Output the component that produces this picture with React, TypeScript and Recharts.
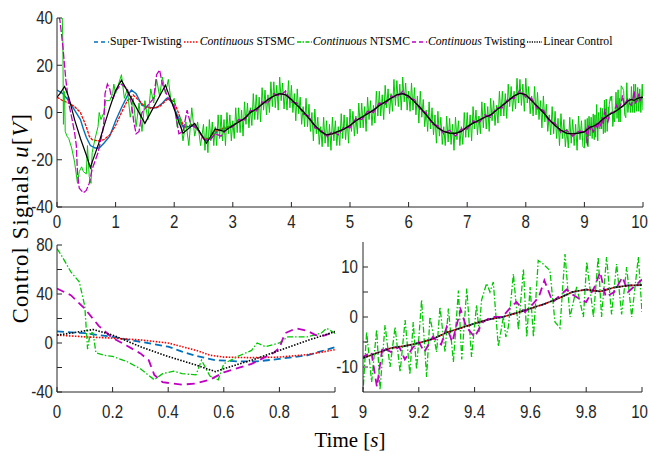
import React from 'react';
import { LineChart, Line, XAxis, YAxis, Legend } from 'recharts';

type Pt = [number, number];

// ---------- data (time [s], value [V]) ----------
const superTwistingStart: Pt[] = [
  [0, 9.5], [0.1, 8], [0.2, 5], [0.3, 1], [0.4, -3], [0.45, -7], [0.5, -10.5], [0.57, -14], [0.65, -15], [0.72, -15],
  [0.8, -13], [0.9, -10], [1.0, -3.5], [1.1, 2], [1.2, 7], [1.27, 9.5], [1.35, 8], [1.45, 3], [1.6, 2], [1.7, 2],
  [1.8, 4], [1.87, 6], [1.95, 5], [2.05, -1], [2.15, -6], [2.25, -6], [2.35, -5.5], [2.45, -9], [2.55, -12],
  [2.65, -10.5], [2.75, -7.5], [2.9, -6.5],
];
const stsmcStart: Pt[] = [
  [0, 6.5], [0.1, 5], [0.2, 4], [0.3, 2.5], [0.4, 0], [0.45, -3], [0.5, -6], [0.55, -10], [0.6, -11.5], [0.7, -12],
  [0.8, -11.5], [0.9, -9.5], [1.0, -5.5], [1.1, 0], [1.2, 5], [1.3, 7.4], [1.4, 5], [1.5, 2.5], [1.6, 1.8],
  [1.75, 2.5], [1.9, 6], [2.0, 4.6], [2.1, -2], [2.17, -6.5], [2.3, -5], [2.4, -7], [2.5, -11], [2.6, -11],
  [2.7, -8], [2.85, -6.5],
];
const linearStart: Pt[] = [
  [0, 6.5], [0.05, 8], [0.13, 11], [0.2, 6.5], [0.3, -3], [0.4, -11], [0.5, -18], [0.57, -23.4], [0.6, -21],
  [0.7, -14], [0.8, -6], [0.9, 2], [1.0, 9.3], [1.1, 13.7], [1.5, -4.6], [1.85, 11.6], [2.15, -8.8], [2.35, -4.6],
  [2.55, -13], [2.7, -7], [2.85, -8],
];
const trackingTail: Pt[] = [
  [3.0, -5.5], [3.1, -4], [3.2, -2.5], [3.3, 0], [3.4, 1.5], [3.5, 3.5], [3.6, 5.5], [3.7, 7], [3.8, 8], [3.9, 7.5],
  [4.0, 5.5], [4.1, 3], [4.2, 0.5], [4.3, -2.5], [4.4, -5.5], [4.5, -8], [4.6, -9.5], [4.7, -9], [4.8, -8], [4.9, -7],
  [5.0, -5.5], [5.1, -3.5], [5.2, -2], [5.3, -0.5], [5.4, 1], [5.5, 3], [5.6, 4.5], [5.7, 6], [5.8, 7.5], [5.9, 8],
  [6.0, 7], [6.1, 4.5], [6.2, 2], [6.3, -1], [6.4, -4], [6.5, -6.5], [6.6, -8], [6.7, -8.7], [6.8, -8.8], [6.9, -8],
  [7.0, -6], [7.1, -4.5], [7.2, -3.3], [7.3, -2], [7.4, -1], [7.5, 1], [7.6, 3], [7.7, 5], [7.8, 7], [7.9, 8.2],
  [8.0, 7.5], [8.1, 5], [8.2, 2.5], [8.3, 0], [8.4, -3], [8.5, -5.5], [8.6, -7.5], [8.7, -8.8], [8.8, -9], [8.9, -8.7],
  [9.0, -8.2], [9.05, -7.2], [9.1, -6.2], [9.15, -5.8], [9.2, -5.2], [9.25, -4.4], [9.3, -3.1], [9.35, -2.2],
  [9.4, -1.3], [9.45, -0.5], [9.5, 0], [9.55, 0.8], [9.6, 1.7], [9.65, 2.6], [9.7, 3.7], [9.75, 5], [9.8, 5.5],
  [9.85, 5.1], [9.9, 5.9], [9.95, 6.3], [10, 6.4],
];
const twistingStart: Pt[] = [
  [0, 44.5], [0.05, 39], [0.1, 28], [0.15, 14], [0.2, 4], [0.25, -2], [0.3, -8.5], [0.33, -14], [0.35, -26],
  [0.38, -32], [0.45, -34], [0.5, -33], [0.55, -30], [0.6, -24], [0.7, -17], [0.78, -8], [0.8, -4], [0.82, 8],
  [0.86, 12], [0.9, 10], [0.93, 6.5], [0.96, 6], [1.0, 9], [1.1, 12], [1.2, 10], [1.27, 4], [1.31, -4], [1.35, -9],
  [1.4, -8], [1.45, 0], [1.55, 3], [1.65, 6], [1.7, 16], [1.75, 18], [1.8, 12], [1.9, 6], [2.0, 3], [2.08, -9],
  [2.15, -8], [2.22, 1], [2.28, -5], [2.4, -7], [2.5, -11], [2.6, -12], [2.7, -9], [2.8, -10], [2.9, -7],
];
const twistingTail: Pt[] = [
  [3.0, -6], [3.1, -3], [3.2, -3.5], [3.3, 1], [3.4, 0.5], [3.5, 4.5], [3.6, 4], [3.7, 8], [3.8, 7], [3.9, 9],
  [4.0, 4.5], [4.1, 4], [4.2, -0.5], [4.3, -1.5], [4.4, -6.5], [4.5, -7], [4.6, -10.5], [4.7, -8], [4.8, -9.5],
  [4.9, -6], [5.0, -6.5], [5.1, -2.5], [5.2, -3], [5.3, 0.5], [5.4, 0], [5.5, 4], [5.6, 3.5], [5.7, 7], [5.8, 6.5],
  [5.9, 9], [6.0, 6], [6.1, 5.5], [6.2, 1], [6.3, 0], [6.4, -5], [6.5, -5.5], [6.6, -9], [6.7, -7.5], [6.8, -10],
  [6.9, -7], [7.0, -7], [7.1, -3.5], [7.2, -4.5], [7.3, -1], [7.4, -2], [7.5, 2], [7.6, 2], [7.7, 6], [7.8, 6],
  [7.9, 9.5], [8.0, 6.5], [8.1, 6], [8.2, 1.5], [8.3, 1], [8.4, -4], [8.5, -4.5], [8.6, -8.5], [8.7, -7.5],
  [8.8, -10], [8.9, -8], [9.0, -8], [9.03, -7], [9.05, -14], [9.07, -6], [9.1, -7], [9.13, -6], [9.15, -8.5],
  [9.18, -6], [9.2, -5], [9.22, -7], [9.25, -4], [9.28, -5.5], [9.3, -2], [9.32, -5], [9.35, 1.5], [9.37, -2],
  [9.4, -4], [9.43, -1], [9.46, 0], [9.5, 0], [9.53, 2], [9.55, 3], [9.58, 1], [9.6, 2], [9.63, 4], [9.65, 7.3],
  [9.68, 3], [9.7, 4], [9.73, 5.5], [9.75, 4.5], [9.78, 3.5], [9.8, 3], [9.83, 6], [9.85, 9], [9.87, 4], [9.9, 5],
  [9.93, 8], [9.95, 5], [9.97, 6], [10, 7.5],
];
const ntsmcStart: Pt[] = [
  [0, 77], [0.02, 70], [0.05, 58], [0.08, 50], [0.1, 30], [0.11, -5], [0.12, 9], [0.13, 8], [0.14, -8], [0.17, -10],
  [0.2, -11], [0.25, -15], [0.3, -21], [0.35, -30], [0.38, -25], [0.42, -23], [0.45, -25], [0.5, -26], [0.52, -14],
  [0.55, -27], [0.58, -30], [0.6, -17], [0.65, -11], [0.7, -6], [0.72, 0], [0.75, -3], [0.8, 0], [0.83, 5],
  [0.9, 5], [0.95, 8], [0.97, 12], [1.0, 8],
];
const ntsmcMid: Pt[] = [
  [1.05, 12], [1.1, 16], [1.15, 6], [1.2, 10], [1.25, -2], [1.3, 6], [1.35, -6], [1.4, 4], [1.45, -8], [1.5, 5],
  [1.55, -3], [1.6, 10], [1.65, 4], [1.7, 14], [1.75, 7], [1.8, 15], [1.85, 8], [1.9, 14], [1.95, 4], [2.0, 6],
  [2.05, -6], [2.1, -2], [2.15, -12], [2.2, -4], [2.25, -14], [2.3, 2], [2.35, -10], [2.4, -4], [2.45, -14],
  [2.5, -5], [2.525, -16], [2.55, -6], [2.575, -17], [2.6, -3], [2.625, -12], [2.65, -4], [2.675, -14],
  [2.7, -6], [2.725, -14], [2.75, -1], [2.775, -11], [2.8, -1], [2.825, -12], [2.85, -3], [2.875, -14],
  [2.9, 0], [2.925, -9], [2.95, -1], [2.975, -12], [3.0, -3.5], [3.025, -11], [3.05, 2], [3.075, -8.5],
  [3.1, 2], [3.125, -8.5], [3.15, 1], [3.175, -10], [3.2, 4.5], [3.225, -5], [3.25, 4], [3.275, -6.5],
  [3.3, 2], [3.325, -5.5], [3.35, 8], [3.375, -3], [3.4, 7.5], [3.425, -3], [3.45, 6.5], [3.475, -4],
  [3.5, 10.5], [3.525, 1], [3.55, 9.5], [3.575, -1], [3.6, 7.5], [3.625, 0], [3.65, 13], [3.675, 2.5],
  [3.7, 13], [3.725, 2], [3.75, 11.5], [3.775, 1], [3.8, 15], [3.825, 5], [3.85, 12.5], [3.875, 1.5],
  [3.9, 9.5], [3.925, 1], [3.95, 13.5], [3.975, 2], [4.0, 11.5], [4.025, 0], [4.05, 8], [4.075, -3.5],
  [4.1, 10], [4.125, -0.5], [4.15, 6.5], [4.175, -5], [4.2, 2.5], [4.225, -6], [4.25, 6], [4.275, -6],
  [4.3, 3.5], [4.325, -8], [4.35, 0], [4.375, -12], [4.4, 1.5], [4.425, -9], [4.45, -2], [4.475, -13.5],
  [4.5, -6], [4.525, -14.5], [4.55, -2], [4.575, -13], [4.6, -3.5], [4.625, -14.5], [4.65, -5], [4.675, -16],
  [4.7, -2], [4.725, -12], [4.75, -3.5], [4.775, -14], [4.8, -6], [4.825, -14], [4.85, -0.5], [4.875, -11],
  [4.9, -1], [4.925, -11.5], [4.95, -2], [4.975, -13], [5.0, 1.5], [5.025, -8], [5.05, 0.5], [5.075, -10],
  [5.1, -1.5], [5.125, -9], [5.15, 4], [5.175, -6.5], [5.2, 4], [5.225, -6.5], [5.25, 2.5], [5.275, -8],
  [5.3, 6.5], [5.325, -3], [5.35, 5], [5.375, -5.5], [5.4, 3], [5.425, -4.5], [5.45, 9], [5.475, -1.5],
  [5.5, 9], [5.525, -1.5], [5.55, 7.5], [5.575, -3], [5.6, 11.5], [5.625, 2], [5.65, 10], [5.675, -0.5],
  [5.7, 8], [5.725, 0.5], [5.75, 14], [5.775, 3], [5.8, 13.5], [5.825, 2.5], [5.85, 12], [5.875, 1],
  [5.9, 15], [5.925, 4.5], [5.95, 12.5], [5.975, 1], [6.0, 9], [6.025, 0.5], [6.05, 12.5], [6.075, 1],
  [6.1, 10.5], [6.125, -1], [6.15, 7], [6.175, -4.5], [6.2, 9], [6.225, -2], [6.25, 5.5], [6.275, -6],
  [6.3, 1], [6.325, -8], [6.35, 4.5], [6.375, -7], [6.4, 2], [6.425, -9.5], [6.45, -1], [6.475, -13],
  [6.5, 0.5], [6.525, -10], [6.55, -2], [6.575, -13.5], [6.6, -6], [6.625, -14], [6.65, -1.5], [6.675, -12.5],
  [6.7, -2.5], [6.725, -13.5], [6.75, -5], [6.775, -16], [6.8, -2], [6.825, -11.5], [6.85, -3.5], [6.875, -14],
  [6.9, -6], [6.925, -13.5], [6.95, 0], [6.975, -10.5], [7.0, 0], [7.025, -10.5], [7.05, -1], [7.075, -12],
  [7.1, 2.5], [7.125, -7], [7.15, 1], [7.175, -9.5], [7.2, -1.5], [7.225, -9], [7.25, 4.5], [7.275, -6.5],
  [7.3, 4], [7.325, -7], [7.35, 2.5], [7.375, -8], [7.4, 6], [7.425, -3.5], [7.45, 5], [7.475, -5.5],
  [7.5, 3], [7.525, -4.5], [7.55, 9], [7.575, -1.5], [7.6, 9], [7.625, -1.5], [7.65, 8], [7.675, -2.5],
  [7.7, 12], [7.725, 2.5], [7.75, 11], [7.775, 0.5], [7.8, 9], [7.825, 1.5], [7.85, 14.5], [7.875, 4],
  [7.9, 14], [7.925, 3], [7.95, 12], [7.975, 0.5], [8.0, 14.5], [8.025, 4], [8.05, 11], [8.075, -0.5],
  [8.1, 7], [8.125, -1.5], [8.15, 11], [8.175, -1], [8.2, 8.5], [8.225, -3], [8.25, 5], [8.275, -6.5],
  [8.3, 7], [8.325, -4], [8.35, 3.5], [8.375, -8], [8.4, -1], [8.425, -9.5], [8.45, 2.5], [8.475, -9],
  [8.5, 0.5], [8.525, -11], [8.55, -2.5], [8.575, -14], [8.6, -0.5], [8.625, -11], [8.65, -3], [8.675, -14.5],
  [8.7, -7], [8.725, -15], [8.75, -2], [8.775, -13], [8.8, -3], [8.825, -14], [8.85, -5], [8.875, -16],
  [8.9, -1.5], [8.925, -11.5], [8.95, -3.5], [8.975, -14.5],
];
const ntsmcEnd: Pt[] = [
  [9.0, -15], [9.013, -3], [9.031, -13], [9.049, -2.5], [9.061, -14.5], [9.079, -1.6], [9.097, -10], [9.115, -2],
  [9.133, -11], [9.151, -0.6], [9.168, -11.5], [9.18, -1], [9.192, -10.5], [9.21, 3.4], [9.228, -12], [9.24, 0],
  [9.264, -7], [9.276, 2], [9.294, -7], [9.306, 1.7], [9.324, -9], [9.342, 5.3], [9.354, -8.5], [9.372, 5.7],
  [9.389, -8], [9.407, 2.4], [9.416, -3], [9.425, 3.4], [9.443, 6.7], [9.455, 5], [9.467, 7], [9.485, -5.9],
  [9.497, -2], [9.503, 0], [9.512, -4], [9.521, -2], [9.539, 8.6], [9.557, -2.5], [9.575, 9.6], [9.587, -4],
  [9.599, 6], [9.611, -4], [9.628, 11.3], [9.646, 10.6], [9.67, 9.3], [9.688, -1], [9.706, -2.2], [9.724, 12.6],
  [9.742, 0], [9.766, 6], [9.79, 0], [9.802, 11], [9.826, 0], [9.843, 12], [9.855, 0], [9.873, 12], [9.891, 0.5],
  [9.909, 10.6], [9.927, 0.5], [9.945, 10], [9.963, 0], [9.987, 12], [10, 1],
];

const topXTicks = [0, 1, 2, 3, 4, 5, 6, 7, 8, 9, 10];
const topYTicks = [-40, -20, 0, 20, 40];
const leftXTicks = [0, 0.2, 0.4, 0.6, 0.8, 1];
const leftYTicks = [-40, -20, 0, 20, 40, 60, 80];
const leftYLabels = [-40, 0, 40, 80];
const rightXTicks = [9, 9.2, 9.4, 9.6, 9.8, 10];
const rightYTicks = [-10, -5, 0, 5, 10];
const rightYLabels = [-10, 0, 10];

// ---------- styling ----------
const FONT_TICK = "'Liberation Sans', Arial, sans-serif";
const FONT_SERIF = "'Liberation Serif', 'Times New Roman', serif";
const AXIS = '#262626';

const rows = (p: Pt[]) => p.map(([t, v]) => ({ t, v }));

type Series = {
  key: string; name: string; italic?: string; data: { t: number; v: number }[]; color: string;
  topDash?: string; zoomDash?: string; legendDash?: string; topW: number; zoomW: number;
};

const SERIES: Series[] = [
  { key: 'st', name: 'Super-Twisting', data: rows([...superTwistingStart, ...trackingTail]), color: '#0072BD',
    topDash: undefined, zoomDash: '7 4', legendDash: '4 3', topW: 1.4, zoomW: 1.8 },
  { key: 'stsmc', name: 'STSMC', italic: 'Continuous', data: rows([...stsmcStart, ...trackingTail]), color: '#FF0000',
    topDash: '3 1', zoomDash: '1.5 1.5', legendDash: '1.5 1.5', topW: 1.3, zoomW: 1.6 },
  { key: 'ntsmc', name: 'NTSMC', italic: 'Continuous', data: rows([...ntsmcStart, ...ntsmcMid, ...ntsmcEnd]), color: '#00C800',
    topDash: undefined, zoomDash: '6 2 1.5 2', legendDash: '4 1.5 1.5 1.5', topW: 1, zoomW: 1.3 },
  { key: 'tw', name: 'Twisting', italic: 'Continuous', data: rows([...twistingStart, ...twistingTail]), color: '#C000C0',
    topDash: '7 2', zoomDash: '8 5', legendDash: '4 3', topW: 1.3, zoomW: 1.8 },
  { key: 'lin', name: 'Linear Control', data: rows([...linearStart, ...trackingTail]), color: '#000000',
    topDash: undefined, zoomDash: '1.5 1.5', legendDash: '1.2 1.2', topW: 1.2, zoomW: 1.6 },
];

const has = (labels: number[], v: number) => labels.some((l) => Math.abs(l - v) < 1e-9);

// condensed tick labels (MATLAB-like narrow sans)
const makeTick = (labels: number[], axis: 'x' | 'y', edgeX?: number) => (props: any) => {
  const { x, y, payload } = props;
  const v = payload?.value;
  if (!has(labels, v)) return <g />;
  const s = String(v);
  const halfW = s.length * 18 * 0.556 * 0.84 / 2;
  const nx = axis === 'x' && edgeX !== undefined && x + halfW > edgeX ? edgeX - halfW : x;
  return (
    <g transform={`translate(${nx},${y}) scale(0.84,1)`}>
      <text x={0} y={0} dy={axis === 'x' ? '0.71em' : '0.355em'} textAnchor={axis === 'x' ? 'middle' : 'end'}
        fill={AXIS} fontSize={18} fontFamily={FONT_TICK}>{s}</text>
    </g>
  );
};

const LegendBox = () => (
  <div style={{ display: 'flex', alignItems: 'center', fontFamily: FONT_SERIF, fontSize: 11.7, color: '#000', whiteSpace: 'nowrap', lineHeight: '14px' }}>
    {SERIES.map((s) => (
      <div key={s.key} style={{ display: 'flex', alignItems: 'center', marginRight: 2 }}>
        <svg width={15} height={6} style={{ display: 'block' }}>
          <line x1={0} y1={3} x2={15} y2={3} stroke={s.color} strokeWidth={1.5} strokeDasharray={s.legendDash} />
        </svg>
        <span style={{ marginLeft: 1, fontFamily: FONT_SERIF }}>
          {s.italic ? <><i>{s.italic}</i> {s.name}</> : s.name}
        </span>
      </div>
    ))}
  </div>
);

type PanelProps = {
  width: number; height: number; margin: { top: number; right: number; left: number; bottom: number };
  xDomain: [number, number]; xTicks: number[]; xLabels: number[];
  yDomain: [number, number]; yTicks: number[]; yLabels: number[];
  yAxisWidth: number; xAxisHeight: number; xTickMargin: number; yTickMargin: number;
  zoom: boolean; legend?: boolean;
};

function Panel(p: PanelProps) {
  return (
    <LineChart width={p.width} height={p.height} margin={p.margin}>
      <XAxis xAxisId="b" dataKey="t" type="number" domain={p.xDomain} ticks={p.xTicks} allowDataOverflow interval={0}
        tickSize={-5} tickMargin={p.xTickMargin} height={p.xAxisHeight}
        stroke={AXIS} tick={makeTick(p.xLabels, 'x', p.width - 1)} />
      <XAxis xAxisId="t" orientation="top" dataKey="t" type="number" domain={p.xDomain} ticks={p.xTicks} allowDataOverflow interval={0}
        tick={false} tickSize={-5} height={0} stroke={AXIS} />
      <YAxis yAxisId="l" dataKey="v" type="number" domain={p.yDomain} ticks={p.yTicks} allowDataOverflow interval={0}
        tickSize={-5} tickMargin={p.yTickMargin} width={p.yAxisWidth}
        stroke={AXIS} tick={makeTick(p.yLabels, 'y')} />
      <YAxis yAxisId="r" orientation="right" dataKey="v" type="number" domain={p.yDomain} ticks={p.yTicks} allowDataOverflow interval={0}
        tick={false} tickSize={-5} width={0} stroke={AXIS} />
      {p.legend && (
        <Legend layout="vertical" align="center" verticalAlign="middle" content={() => <LegendBox />}
          wrapperStyle={{ left: 94, top: 35, width: 'auto', height: 'auto' }} />
      )}
      {SERIES.map((s) => (
        <Line key={s.key} xAxisId="b" yAxisId="l" data={s.data} dataKey="v" name={s.name} type="linear"
          stroke={s.color} strokeWidth={p.zoom ? s.zoomW : s.topW}
          strokeDasharray={p.zoom ? s.zoomDash : s.topDash}
          dot={false} activeDot={false} isAnimationActive={false} />
      ))}
    </LineChart>
  );
}

export default function App() {
  return (
    <div style={{ position: 'absolute', left: 0, top: 0, width: 649, height: 454, background: '#fff', overflow: 'hidden' }}>
      <div style={{ position: 'absolute', left: 0, top: 0 }}>
        <Panel width={649} height={245} margin={{ top: 18, right: 6, left: 0, bottom: 0 }}
          xDomain={[0, 10]} xTicks={topXTicks} xLabels={topXTicks}
          yDomain={[-40, 40]} yTicks={topYTicks} yLabels={topYTicks}
          yAxisWidth={57} xAxisHeight={38} xTickMargin={13} yTickMargin={9} zoom={false} legend />
      </div>
      <div style={{ position: 'absolute', left: 0, top: 225 }}>
        <Panel width={340} height={215} margin={{ top: 20, right: 5, left: 0, bottom: 0 }}
          xDomain={[0, 1]} xTicks={leftXTicks} xLabels={leftXTicks}
          yDomain={[-40, 80]} yTicks={leftYTicks} yLabels={leftYLabels}
          yAxisWidth={57} xAxisHeight={48} xTickMargin={18} yTickMargin={9} zoom />
      </div>
      <div style={{ position: 'absolute', left: 320, top: 225 }}>
        <Panel width={329} height={215} margin={{ top: 17, right: 7, left: 0, bottom: 0 }}
          xDomain={[9, 10]} xTicks={rightXTicks} xLabels={rightXTicks}
          yDomain={[-15, 15]} yTicks={rightYTicks} yLabels={rightYLabels}
          yAxisWidth={43} xAxisHeight={48} xTickMargin={18} yTickMargin={10} zoom />
      </div>
      <svg width={649} height={454} style={{ position: 'absolute', left: 0, top: 0, pointerEvents: 'none' }}>
        <text x={28} y={218} transform="rotate(-90 28 218)" textAnchor="middle" fontFamily={FONT_SERIF} fontSize={22.5} fill="#000" letterSpacing={1.2}>
          Control Signals <tspan fontStyle="italic">u</tspan>[<tspan fontStyle="italic">V</tspan>]
        </text>
        <text x={350} y={447} textAnchor="middle" fontFamily={FONT_SERIF} fontSize={21} fill="#000">
          Time [<tspan fontStyle="italic">s</tspan>]
        </text>
      </svg>
    </div>
  );
}
